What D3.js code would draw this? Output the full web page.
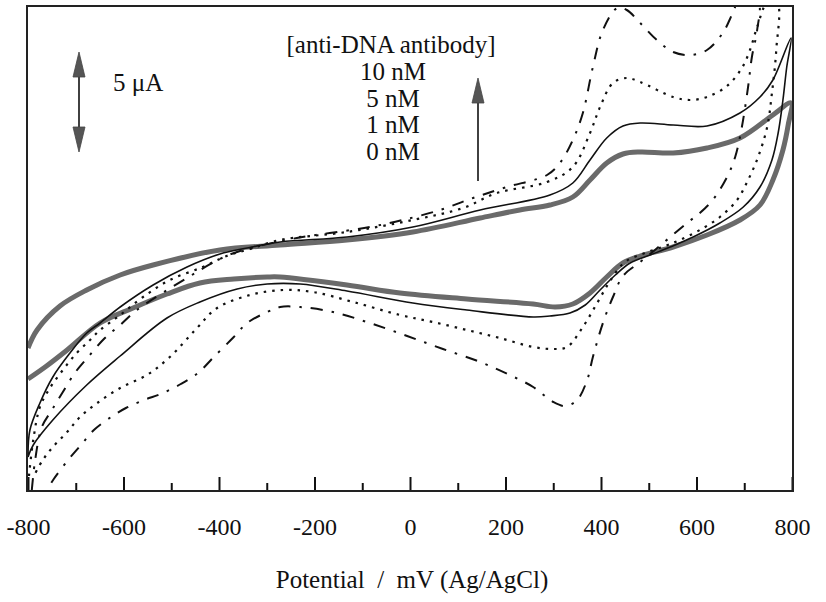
<!DOCTYPE html>
<html>
<head>
<meta charset="utf-8">
<script src="https://cdn.jsdelivr.net/npm/d3@7"></script>
<style>
  body { margin: 0; background: #fff; }
  svg { display: block; }
  text { font-family: "Liberation Serif", "Times New Roman", Times, serif; fill: #111; }
</style>
</head>
<body>
<div id="chart"></div>
<script>
// x ticks (mV) and legend text
const xTicks = [-800, -600, -400, -200, 0, 200, 400, 600, 800]
const xMinorTicks = [-700, -500, -300, -100, 100, 300, 500, 700]
const legendTitle = "[anti-DNA antibody]"
const concLabels = ["10 nM", "5 nM", "1 nM", "0 nM"]
const scaleBarUA = 5

// cyclic voltammograms: [potential mV, current uA], forward scan then reverse
const cv0nM = [
  [-800,-4.85],[-781,-3.95],[-733,-2.75],[-677,-1.95],[-607,-1.2],[-538,-0.7],[-398,0.05],
  [-272,0.3],[-132,0.55],[6,0.95],[147,1.65],[230,2.05],[293,2.3],[341,2.7],[377,3.55],
  [412,4.4],[446,4.85],[482,4.95],[551,4.9],[622,5.15],[691,5.65],[760,6.8],[798,7.4],
  [792,6.3],[781,5.05],[760,3.55],[733,2.3],[691,1.55],[622,0.8],[551,0.2],[482,-0.25],
  [446,-0.6],[412,-1.3],[377,-2.1],[341,-2.65],[304,-2.8],[258,-2.65],[119,-2.4],[-21,-2.1],
  [-132,-1.7],[-272,-1.3],[-299,-1.3],[-369,-1.4],[-440,-1.6],[-509,-2.15],[-580,-2.85],
  [-649,-3.6],[-718,-4.95],[-764,-5.8],[-800,-6.4]
]
const cv1nM = [
  [-800,-10.2],[-796,-8.95],[-775,-7.6],[-748,-6.3],[-712,-5.1],[-677,-4.1],[-649,-3.6],
  [-607,-2.8],[-538,-1.7],[-467,-0.8],[-398,-0.15],[-341,0.15],[-272,0.45],[-132,0.7],
  [6,1.2],[147,2.05],[293,2.8],[341,3.4],[377,4.55],[412,5.65],[446,6.25],[482,6.4],
  [551,6.3],[622,6.25],[691,6.9],[733,7.7],[760,8.55],[798,10.65],
  [789,9.2],[781,7.55],[771,5.9],[758,4.55],[733,3.2],[698,2.2],[649,1.4],[593,0.7],
  [545,0.2],[503,-0.2],[461,-0.6],[430,-1.2],[398,-1.95],[367,-2.7],[335,-3.1],[293,-3.25],
  [258,-3.3],[119,-2.95],[6,-2.6],[-132,-2.0],[-230,-1.65],[-299,-1.65],[-362,-1.9],
  [-440,-2.55],[-509,-3.35],[-607,-5.25],[-677,-6.7],[-748,-8.45],[-789,-9.7],[-800,-10.3]
]
const cv5nM = [
  [-798,-11.25],[-789,-9.45],[-775,-7.8],[-754,-6.85],[-727,-5.95],[-698,-5.1],[-670,-4.45],
  [-649,-3.95],[-607,-3.2],[-559,-2.3],[-503,-1.45],[-434,-0.8],[-384,-0.25],[-335,0.1],
  [-272,0.55],[-132,0.95],[6,1.55],[111,2.15],[182,2.9],[287,3.45],[341,4.2],[377,5.9],
  [398,7.2],[425,8.4],[454,8.65],[482,8.45],[551,7.7],[586,7.55],[622,7.7],[664,8.25],
  [695,9.15],[712,10.05],[727,11.2],[748,12.4],
  [769,12.4],[767,10.05],[758,7.9],[748,6.2],[729,4.7],[708,3.55],[685,2.55],[649,1.7],
  [607,1.05],[565,0.55],[534,0.25],[492,-0.1],[450,-0.55],[419,-1.5],[392,-2.6],[362,-3.8],
  [329,-4.8],[300,-4.9],[258,-4.8],[188,-4.35],[119,-3.95],[48,-3.55],[-21,-3.2],[-119,-2.55],
  [-203,-2.05],[-266,-1.95],[-335,-2.2],[-404,-2.85],[-448,-3.9],[-503,-5.3],[-551,-6.2],
  [-607,-6.85],[-655,-7.6],[-691,-8.3],[-718,-9.05],[-748,-9.8],[-769,-10.45],[-789,-11.3]
]
const cv10nM = [
  [-792,-11.95],[-785,-10.45],[-771,-8.8],[-750,-7.95],[-727,-7.05],[-702,-6.1],[-674,-5.3],
  [-639,-4.35],[-607,-3.7],[-572,-2.95],[-467,-1.35],[-398,-0.4],[-356,0],[-237,0.65],
  [-168,0.9],[-84,1.2],[-15,1.55],[63,2.05],[132,2.65],[203,3.2],[287,3.8],[314,4.4],
  [341,5.55],[362,6.9],[383,9.2],[404,11.05],[434,12.15],[454,12.05],[482,11.4],[517,10.55],
  [551,9.95],[586,9.8],[622,10.05],[655,10.9],[676,11.9],[687,12.4],
  [729,12.4],[727,11.05],[716,9.7],[708,8.2],[695,6.2],[681,4.7],[664,3.7],[634,2.55],
  [607,1.9],[580,1.4],[545,0.7],[513,0.05],[482,-0.55],[446,-1.25],[425,-2.3],[404,-3.6],
  [383,-5.3],[371,-6.45],[350,-7.45],[325,-7.75],[300,-7.55],[258,-6.8],[209,-6.2],[147,-5.55],
  [69,-4.9],[-6,-4.25],[-84,-3.6],[-161,-3.05],[-230,-2.8],[-272,-2.8],[-299,-3.05],[-341,-3.6],
  [-369,-4.3],[-411,-5.3],[-444,-6.1],[-480,-6.65],[-522,-7.15],[-557,-7.45],[-595,-7.85],
  [-626,-8.3],[-662,-8.95],[-689,-9.7],[-716,-10.45],[-746,-11.4],[-762,-12]
]

const params = { fullWidth: 826, fullHeight: 602, x0: 28, x1: 792, top: 7, bottom: 491 }

const svg = d3.select("#chart").append("svg")
  .attr("width", params.fullWidth)
  .attr("height", params.fullHeight)

const x = d3.scaleLinear().domain([-800, 800]).range([params.x0, params.x1])
const y = d3.scaleLinear().domain([-12, 12.2]).range([params.bottom, params.top])

svg.append("clipPath").attr("id", "plotclip")
  .append("rect")
  .attr("x", params.x0 - 1).attr("y", 5)
  .attr("width", params.x1 - params.x0 + 2).attr("height", params.bottom - 5)

// curves
const line = d3.line()
  .x(d => x(d[0]))
  .y(d => y(d[1]))
  .curve(d3.curveCatmullRom.alpha(0.5))

const series = [
  { data: cv0nM, stroke: "#6a6a6a", width: 5, dash: null },
  { data: cv1nM, stroke: "#111", width: 1.6, dash: null },
  { data: cv5nM, stroke: "#111", width: 2.2, dash: "2.5,6" },
  { data: cv10nM, stroke: "#111", width: 2, dash: "12,9,2.5,9" }
]

const curves = svg.append("g").attr("clip-path", "url(#plotclip)")
series.forEach(s => {
  curves.append("path")
    .datum(s.data)
    .attr("fill", "none")
    .attr("stroke", s.stroke)
    .attr("stroke-width", s.width)
    .attr("stroke-dasharray", s.dash)
    .attr("stroke-linejoin", "round")
    .attr("d", line)
})

// axis ticks inside the frame
const xAxisCall = d3.axisBottom(x)
  .tickValues(xTicks)
  .tickSizeInner(-14)
  .tickSizeOuter(0)
  .tickPadding(27)
  .tickFormat(d => String(d))
const xAxisGroup = svg.append("g")
  .attr("transform", `translate(0, ${params.bottom})`)
  .call(xAxisCall)
xAxisGroup.attr("font-family", null)
xAxisGroup.select(".domain").remove()
xAxisGroup.selectAll("line").attr("stroke", "#111").attr("stroke-width", 2)
xAxisGroup.selectAll("text")
  .attr("font-size", "24px")
  .attr("fill", "#111")

const minorAxis = svg.append("g")
  .attr("transform", `translate(0, ${params.bottom})`)
  .call(d3.axisBottom(x).tickValues(xMinorTicks).tickSizeInner(-8).tickSizeOuter(0).tickFormat(""))
minorAxis.select(".domain").remove()
minorAxis.selectAll("line").attr("stroke", "#111").attr("stroke-width", 2)

// frame
svg.append("rect")
  .attr("x", 27).attr("y", 6)
  .attr("width", 766).attr("height", params.bottom - 6)
  .attr("fill", "none")
  .attr("stroke", "#222")
  .attr("stroke-width", 2)

// axis title
svg.append("text")
  .attr("x", 412)
  .attr("y", 588)
  .attr("text-anchor", "middle")
  .attr("font-size", "25px")
  .style("white-space", "pre")
  .text("Potential  /  mV (Ag/AgCl)")

// arrow helper: filled triangular head
function arrowHead(g, cx, tipY, dir) {
  const len = 25, half = 6
  g.append("path")
    .attr("d", `M${cx},${tipY} L${cx - half},${tipY + dir * len} L${cx + half},${tipY + dir * len} Z`)
    .attr("fill", "#555")
    .attr("stroke", "#444")
    .attr("stroke-width", 0.8)
}

// 5 uA scale bar
const barX = 79
const barTop = y(9.95)
const barBottom = y(9.95 - scaleBarUA)
const bar = svg.append("g")
bar.append("line")
  .attr("x1", barX).attr("x2", barX)
  .attr("y1", barTop + 10).attr("y2", barBottom - 10)
  .attr("stroke", "#111").attr("stroke-width", 1.6)
arrowHead(bar, barX, barTop, 1)
arrowHead(bar, barX, barBottom, -1)
svg.append("text")
  .attr("x", 113).attr("y", 91)
  .attr("font-size", "25px")
  .text(`${scaleBarUA} μA`)

// legend
const legend = svg.append("g")
legend.append("text")
  .attr("x", 391).attr("y", 53)
  .attr("text-anchor", "middle")
  .attr("font-size", "25px")
  .text(legendTitle)
legend.selectAll(".conc")
  .data(concLabels)
  .enter().append("text")
  .attr("class", "conc")
  .attr("x", 393)
  .attr("y", (d, i) => 80 + i * 26.7)
  .attr("text-anchor", "middle")
  .attr("font-size", "25px")
  .text(d => d)

const up = svg.append("g")
up.append("line")
  .attr("x1", 478).attr("x2", 478)
  .attr("y1", 181).attr("y2", 95)
  .attr("stroke", "#111").attr("stroke-width", 1.6)
arrowHead(up, 478, 78, 1)
</script>
</body>
</html>
